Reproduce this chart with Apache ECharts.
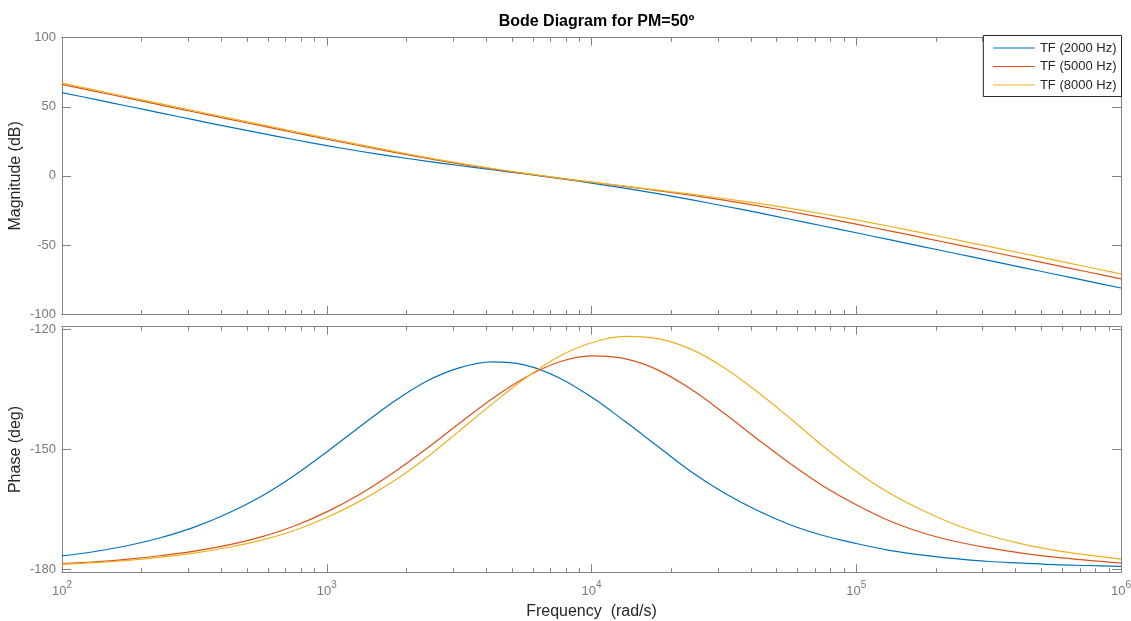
<!DOCTYPE html>
<html><head><meta charset="utf-8">
<script src="https://cdn.jsdelivr.net/npm/echarts@6/dist/echarts.min.js"></script>
<style>html,body{margin:0;padding:0;background:#fff}#c{width:1131px;height:621px}</style>
</head><body><div id="c"></div>
<script>
// ---- data ----
const freqs = [100, 133.35, 177.83, 237.14, 316.23, 421.70, 562.34, 749.89, 1000, 1333.5, 1778.3, 2371.4, 3162.3, 4217.0, 5623.4, 7498.9, 10000, 13335, 17783, 23714, 31623, 42170, 56234, 74989, 100000, 133352, 177828, 237137, 316228, 421697, 562341, 749894, 1000000];
const seriesNames = ['TF (2000 Hz)', 'TF (5000 Hz)', 'TF (8000 Hz)'];
const magTF2000 = [60.3, 55.3, 50.4, 45.4, 40.5, 35.6, 30.9, 26.3, 21.9, 17.8, 14.1, 10.7, 7.5, 4.4, 1.4, -1.8, -5.2, -8.9, -12.9, -17.2, -21.8, -26.5, -31.4, -36.3, -41.2, -46.2, -51.2, -56.2, -61.2, -66.2, -71.2, -76.2, -81.2];
const magTF5000 = [66.2, 61.2, 56.2, 51.2, 46.2, 41.3, 36.3, 31.4, 26.5, 21.8, 17.2, 12.8, 8.7, 5.0, 1.6, -1.6, -4.6, -7.6, -10.7, -14.0, -17.6, -21.5, -25.8, -30.3, -35.0, -39.8, -44.7, -49.6, -54.6, -59.6, -64.6, -69.6, -74.6];
const magTF8000 = [67.1, 62.1, 57.1, 52.1, 47.1, 42.1, 37.2, 32.2, 27.4, 22.6, 17.9, 13.4, 9.2, 5.3, 1.8, -1.5, -4.5, -7.4, -10.3, -13.2, -16.4, -19.8, -23.5, -27.6, -31.9, -36.5, -41.3, -46.2, -51.1, -56.0, -61.0, -66.0, -71.0];
const phaseTF2000 = [-176.6, -175.5, -174.0, -172.0, -169.4, -166.0, -161.8, -156.6, -150.6, -144.3, -138.2, -133.0, -129.6, -128.1, -128.9, -132.0, -136.9, -142.9, -149.2, -155.5, -160.8, -165.2, -168.8, -171.5, -173.5, -175.2, -176.4, -177.3, -178.0, -178.4, -178.8, -179.0, -179.2];
const phaseTF5000 = [-178.5, -178.1, -177.4, -176.5, -175.4, -173.9, -171.9, -169.2, -165.6, -161.2, -155.9, -149.9, -143.5, -137.3, -132.0, -128.2, -126.6, -127.3, -130.1, -134.9, -140.9, -147.3, -153.5, -159.1, -163.8, -167.8, -170.8, -173.0, -174.6, -175.9, -176.9, -177.7, -178.4];
const phaseTF8000 = [-178.7, -178.3, -177.7, -176.9, -175.9, -174.5, -172.7, -170.3, -167.0, -162.9, -158.0, -152.1, -145.4, -138.6, -132.2, -126.8, -123.3, -121.7, -122.3, -124.9, -129.5, -135.5, -142.2, -149.2, -155.5, -160.9, -165.2, -168.8, -171.5, -173.6, -175.2, -176.4, -177.4];
const magTicks = [-100, -50, 0, 50, 100];
const phaseTicks = [-180, -150, -120];
const decadeExponents = [2, 3, 4, 5, 6];
const minorMultipliers = [2, 3, 4, 5, 6, 7, 8, 9];

// ---- styling ----
const colors = ['#0072BD', '#D95319', '#EDB120'];
const FONT = '"Liberation Sans", Arial, Helvetica, sans-serif';
const AX = '#828282';
const LBL = '#7a7a7a';
const DARK = '#262626';

const minorPos = [];
for (let e = 2; e < 6; e++) minorMultipliers.forEach(m => minorPos.push(e + Math.log10(m)));

const grids = [
  { left: 62, top: 37.7, width: 1059, height: 276.3, outerBoundsMode: 'none' },
  { left: 62, top: 326.7, width: 1059, height: 245.6, outerBoundsMode: 'none' }
];

function logAxis(g) {
  return { type: 'log', logBase: 10, gridIndex: g, min: 100, max: 1000000, show: false,
    axisLine: { onZero: false }, splitLine: { show: false } };
}
function tickAxis(g, position, values, len, labels, extra) {
  return Object.assign({
    type: 'value', gridIndex: g, position: position, min: 2, max: 6,
    axisLine: { show: true, onZero: false, lineStyle: { color: AX, width: 1 } },
    axisTick: { show: true, inside: true, length: len, customValues: values, lineStyle: { color: AX, width: 1 } },
    axisLabel: labels ? {
      show: true, customValues: decadeExponents, margin: 8,
      formatter: v => '{b|10}{s|' + v + '}',
      rich: {
        b: { fontSize: 13, color: LBL, fontFamily: FONT, lineHeight: 18, verticalAlign: 'bottom' },
        s: { fontSize: 10, color: LBL, fontFamily: FONT, lineHeight: 10, verticalAlign: 'top' }
      }
    } : { show: false },
    splitLine: { show: false }
  }, extra || {});
}
const xAxes = [];
[0, 1].forEach(g => {
  xAxes.push(logAxis(g));
  xAxes.push(tickAxis(g, 'bottom', decadeExponents, 8, g === 1, g === 1 ? {
    name: 'Frequency  (rad/s)', nameLocation: 'middle', nameGap: 31, nameMoveOverlap: false,
    nameTextStyle: { fontSize: 16, color: DARK, fontFamily: FONT }
  } : {}));
  xAxes.push(tickAxis(g, 'bottom', minorPos, 4, false));
  xAxes.push(tickAxis(g, 'top', decadeExponents, 8, false));
  xAxes.push(tickAxis(g, 'top', minorPos, 4, false));
});

function yAx(g, position, min, max, ticks, labels, name) {
  const a = {
    type: 'value', gridIndex: g, position: position, min: min, max: max,
    axisLine: { show: true, onZero: false, lineStyle: { color: AX, width: 1 } },
    axisTick: { show: true, inside: true, length: 9, customValues: ticks, lineStyle: { color: AX, width: 1 } },
    axisLabel: labels ? { show: true, customValues: ticks, color: LBL, fontSize: 13, fontFamily: FONT, margin: 6 } : { show: false },
    splitLine: { show: false }
  };
  if (name) {
    a.name = name; a.nameLocation = 'middle'; a.nameGap = 38; a.nameMoveOverlap = false;
    a.nameTextStyle = { fontSize: 16, color: DARK, fontFamily: FONT };
  }
  return a;
}
const yAxes = [
  yAx(0, 'left', -100, 100, magTicks, true, 'Magnitude (dB)'),
  yAx(0, 'right', -100, 100, magTicks, false),
  yAx(1, 'left', -180.7, -119.3, phaseTicks, true, 'Phase (deg)'),
  yAx(1, 'right', -180.7, -119.3, phaseTicks, false)
];

function mkSeries(name, arr, color, xi, yi) {
  return {
    name: name, type: 'line', xAxisIndex: xi, yAxisIndex: yi,
    data: freqs.map((f, i) => [f, arr[i]]),
    symbol: 'none', smooth: 0.35, clip: true,
    lineStyle: { color: color, width: 1.2 }, itemStyle: { color: color },
    emphasis: { disabled: true }
  };
}
const mags = [magTF2000, magTF5000, magTF8000];
const phases = [phaseTF2000, phaseTF5000, phaseTF8000];
const series = [];
seriesNames.forEach((n, i) => series.push(mkSeries(n, mags[i], colors[i], 0, 0)));
seriesNames.forEach((n, i) => series.push(mkSeries(n, phases[i], colors[i], 5, 2)));

const chart = echarts.init(document.getElementById('c'), null, { renderer: 'canvas' });
chart.setOption({
  animation: false,
  backgroundColor: '#fff',
  title: { text: 'Bode Diagram for PM=50º', left: 591.5, textAlign: 'center', top: 9,
    textStyle: { fontSize: 16, fontWeight: 'bold', color: '#000', fontFamily: FONT } },
  legend: {
    data: seriesNames, orient: 'vertical', right: 9.5, top: 35.5,
    itemWidth: 42, itemHeight: 12, itemGap: 5.5, padding: [6, 5, 5, 9],
    itemStyle: { opacity: 0, borderWidth: 0 },
    lineStyle: { width: 1.2 },
    backgroundColor: '#fff', borderColor: DARK, borderWidth: 1, borderRadius: 0,
    textStyle: { fontSize: 13, lineHeight: 12, color: DARK, fontFamily: FONT }, z: 10
  },
  grid: grids,
  xAxis: xAxes,
  yAxis: yAxes,
  series: series
});
</script></body></html>
